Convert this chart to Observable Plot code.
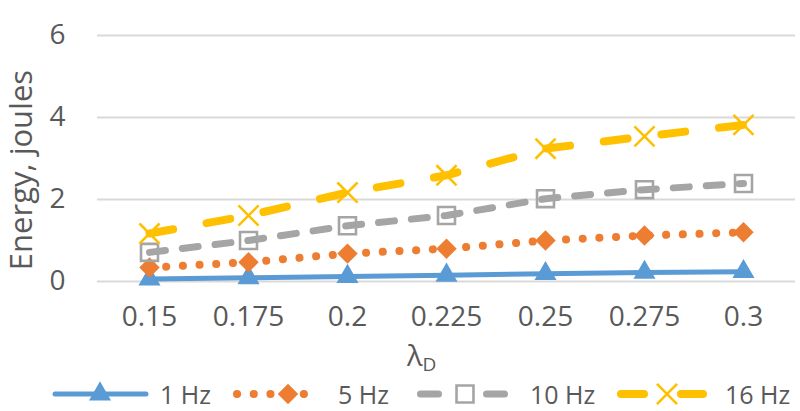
<!DOCTYPE html>
<html><head><meta charset="utf-8">
<script src="https://cdn.jsdelivr.net/npm/d3@7"></script>
<script src="https://cdn.jsdelivr.net/npm/@observablehq/plot@0.6"></script>
<style>
body{margin:0;background:#fff;font-family:"Open Sans",sans-serif;overflow:hidden;}
#chart svg{display:block;}
</style></head><body><div id="chart"></div>
<script>
const lambdas = ["0.15","0.175","0.2","0.225","0.25","0.275","0.3"];
const hz1  = [0.06,0.09,0.12,0.15,0.19,0.22,0.24];
const hz5  = [0.34,0.47,0.68,0.80,1.00,1.12,1.20];
const hz10 = [0.71,1.00,1.36,1.61,2.02,2.24,2.39];
const hz16 = [1.17,1.61,2.17,2.59,3.24,3.54,3.82];
const yTicks = [0,2,4,6];
const seriesNames = ["1 Hz","5 Hz","10 Hz","16 Hz"];
const FONT = '"Open Sans",sans-serif';
const TXT = "#595959";

const styles = {
  "1 Hz":  {color:"#5B9BD5", width:5, dash:null,       symbol:"triangle", fill:"#5B9BD5", stroke:"none",    r:8.2},
  "5 Hz":  {color:"#ED7D31", width:8, dash:"0.1,16.6", symbol:"diamond2", fill:"#ED7D31", stroke:"none",    r:9.2},
  "10 Hz": {color:"#A5A5A5", width:7, dash:"16,17",    symbol:"square2",  fill:"none",    stroke:"#A5A5A5", r:10.8},
  "16 Hz": {color:"#FFC000", width:8, dash:"24,34",    symbol:"times",    fill:"none",    stroke:"#FFC000", r:9.2}
};
const allValues = [hz1,hz5,hz10,hz16];
const data = seriesNames.flatMap((s,i)=>lambdas.map((l,j)=>({series:s, lambda:l, value:allValues[i][j]})));

const marks = [Plot.ruleY(yTicks, {stroke:"#d9d9d9", strokeWidth:2.2})];
for (const s of seriesNames) {
  const st = styles[s];
  const d = data.filter(r=>r.series===s);
  marks.push(Plot.line(d, {x:"lambda", y:"value", stroke:st.color, strokeWidth:st.width,
    strokeDasharray:st.dash, strokeLinecap:"round", strokeLinejoin:"round"}));
  marks.push(Plot.dot(d, {x:"lambda", y:"value", symbol:st.symbol, r:st.r,
    fill:st.fill, stroke:st.stroke, strokeWidth:2.6}));
}
marks.push(Plot.axisX({tickSize:0, tickPadding:25, fontSize:28, fill:TXT, label:null, fontFamily:FONT}));
marks.push(Plot.axisY({ticks:yTicks, tickSize:0, tickPadding:32, fontSize:28, fill:TXT, fontFamily:FONT,
  tickFormat:d=>String(d), label:null}));

const plot = Plot.plot({
  width:800, height:386,
  marginLeft:97, marginRight:5, marginTop:35, marginBottom:105,
  style:{fontFamily:FONT, color:TXT, background:"#fff"},
  x:{type:"point", domain:lambdas, padding:0.5},
  y:{domain:[0,6]},
  marks
});
const sel = d3.select(plot);
// y axis title
sel.append("text").attr("transform","translate(32,170) rotate(-90)")
  .attr("text-anchor","middle").attr("fill",TXT)
  .style("font-family",FONT).style("font-size","31px").text("Energy, joules");
// x axis title with subscript
const xl = sel.append("text").attr("x", 407).attr("y", 366)
  .attr("text-anchor","start").attr("fill",TXT)
  .style("font-family",FONT).style("font-size","29px");
xl.append("tspan").text("λ");
xl.append("tspan").attr("dy",5).style("font-size","19px").text("D");
document.getElementById("chart").appendChild(plot);

// legend (overlaps the bottom strip of the chart svg, which is blank there)
const leg = d3.select("#chart").append("svg").attr("width",800).attr("height",41)
  .style("display","block").style("margin-top","-16px").style("position","relative");
const cy = 24;
const items = [
  {s:"1 Hz",  x0:55,    x1:146,   dash:null,       mx:100, tx:160},
  {s:"5 Hz",  x0:237,   x1:320.1, dash:"0.1,16.6", mx:288, tx:338},
  {s:"10 Hz", x0:420.5, x1:504.5, dash:"18,48",    mx:465, tx:530},
  {s:"16 Hz", x0:621,   x1:703,   dash:"23,37",    mx:667, tx:725}
];
const symMap = {triangle:d3.symbolTriangle, diamond2:d3.symbolDiamond2, square2:d3.symbolSquare2, times:d3.symbolTimes};
for (const it of items) {
  const st = styles[it.s];
  leg.append("line").attr("x1",it.x0).attr("x2",it.x1).attr("y1",cy).attr("y2",cy)
    .attr("stroke",st.color).attr("stroke-width",st.width).attr("stroke-linecap","round")
    .attr("stroke-dasharray", it.dash);
  leg.append("path").attr("transform",`translate(${it.mx},${cy})`)
    .attr("d", d3.symbol(symMap[st.symbol], Math.PI*st.r*st.r)())
    .attr("fill",st.fill).attr("stroke",st.stroke).attr("stroke-width",2.6);
  leg.append("text").attr("x",it.tx).attr("y",cy+10).attr("fill",TXT)
    .style("font-family",FONT).style("font-size","25px").text(it.s);
}
</script></body></html>
